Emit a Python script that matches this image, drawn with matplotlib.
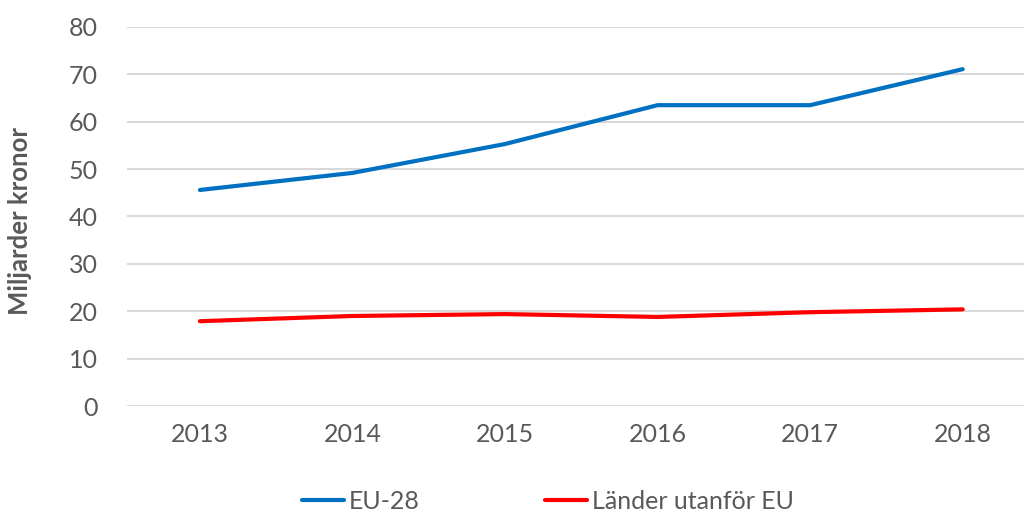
import numpy as np
import matplotlib.pyplot as plt

plt.rcParams['font.family'] = ['Lato', 'DejaVu Sans']

years = ['2013', '2014', '2015', '2016', '2017', '2018']
eu28 = [45.6, 49.2, 55.3, 63.5, 63.5, 71.1]
non_eu = [17.9, 19.0, 19.4, 18.8, 19.8, 20.4]

grey = '#595959'

fig = plt.figure(figsize=(10.24, 5.14), dpi=100)
ax = fig.add_axes([127 / 1024, 108 / 514, 912 / 1024, 379 / 514])

x = np.arange(len(years))
ax.plot(x, eu28, color='#0070C0', lw=3, solid_capstyle='round', label='EU-28')
ax.plot(x, non_eu, color='#FF0000', lw=3, solid_capstyle='round', label='Länder utanför EU')

ax.set_xlim(-0.478, 5.5)
ax.set_ylim(0, 80)
ax.set_yticks(range(0, 81, 10))
ax.set_xticks(x)
ax.set_xticklabels(years)
ax.grid(axis='y', color='#D9D9D9', lw=1.5)
ax.set_axisbelow(True)
for s in ax.spines.values():
    s.set_visible(False)
ax.tick_params(axis='both', length=0, labelsize=18, labelcolor=grey)
ax.tick_params(axis='y', pad=21)
ax.tick_params(axis='x', pad=12)

ax.set_ylabel('Miljarder kronor', fontsize=18.5, fontweight='bold', color=grey)
ax.yaxis.set_label_coords(-0.104, 0.488)

fig.legend(loc='center', bbox_to_anchor=(0.535, 0.025), ncol=2, frameon=False,
           fontsize=18, labelcolor=grey, handlelength=1.68, handletextpad=0.2,
           columnspacing=5)

fig.savefig('out.png', dpi=100)
